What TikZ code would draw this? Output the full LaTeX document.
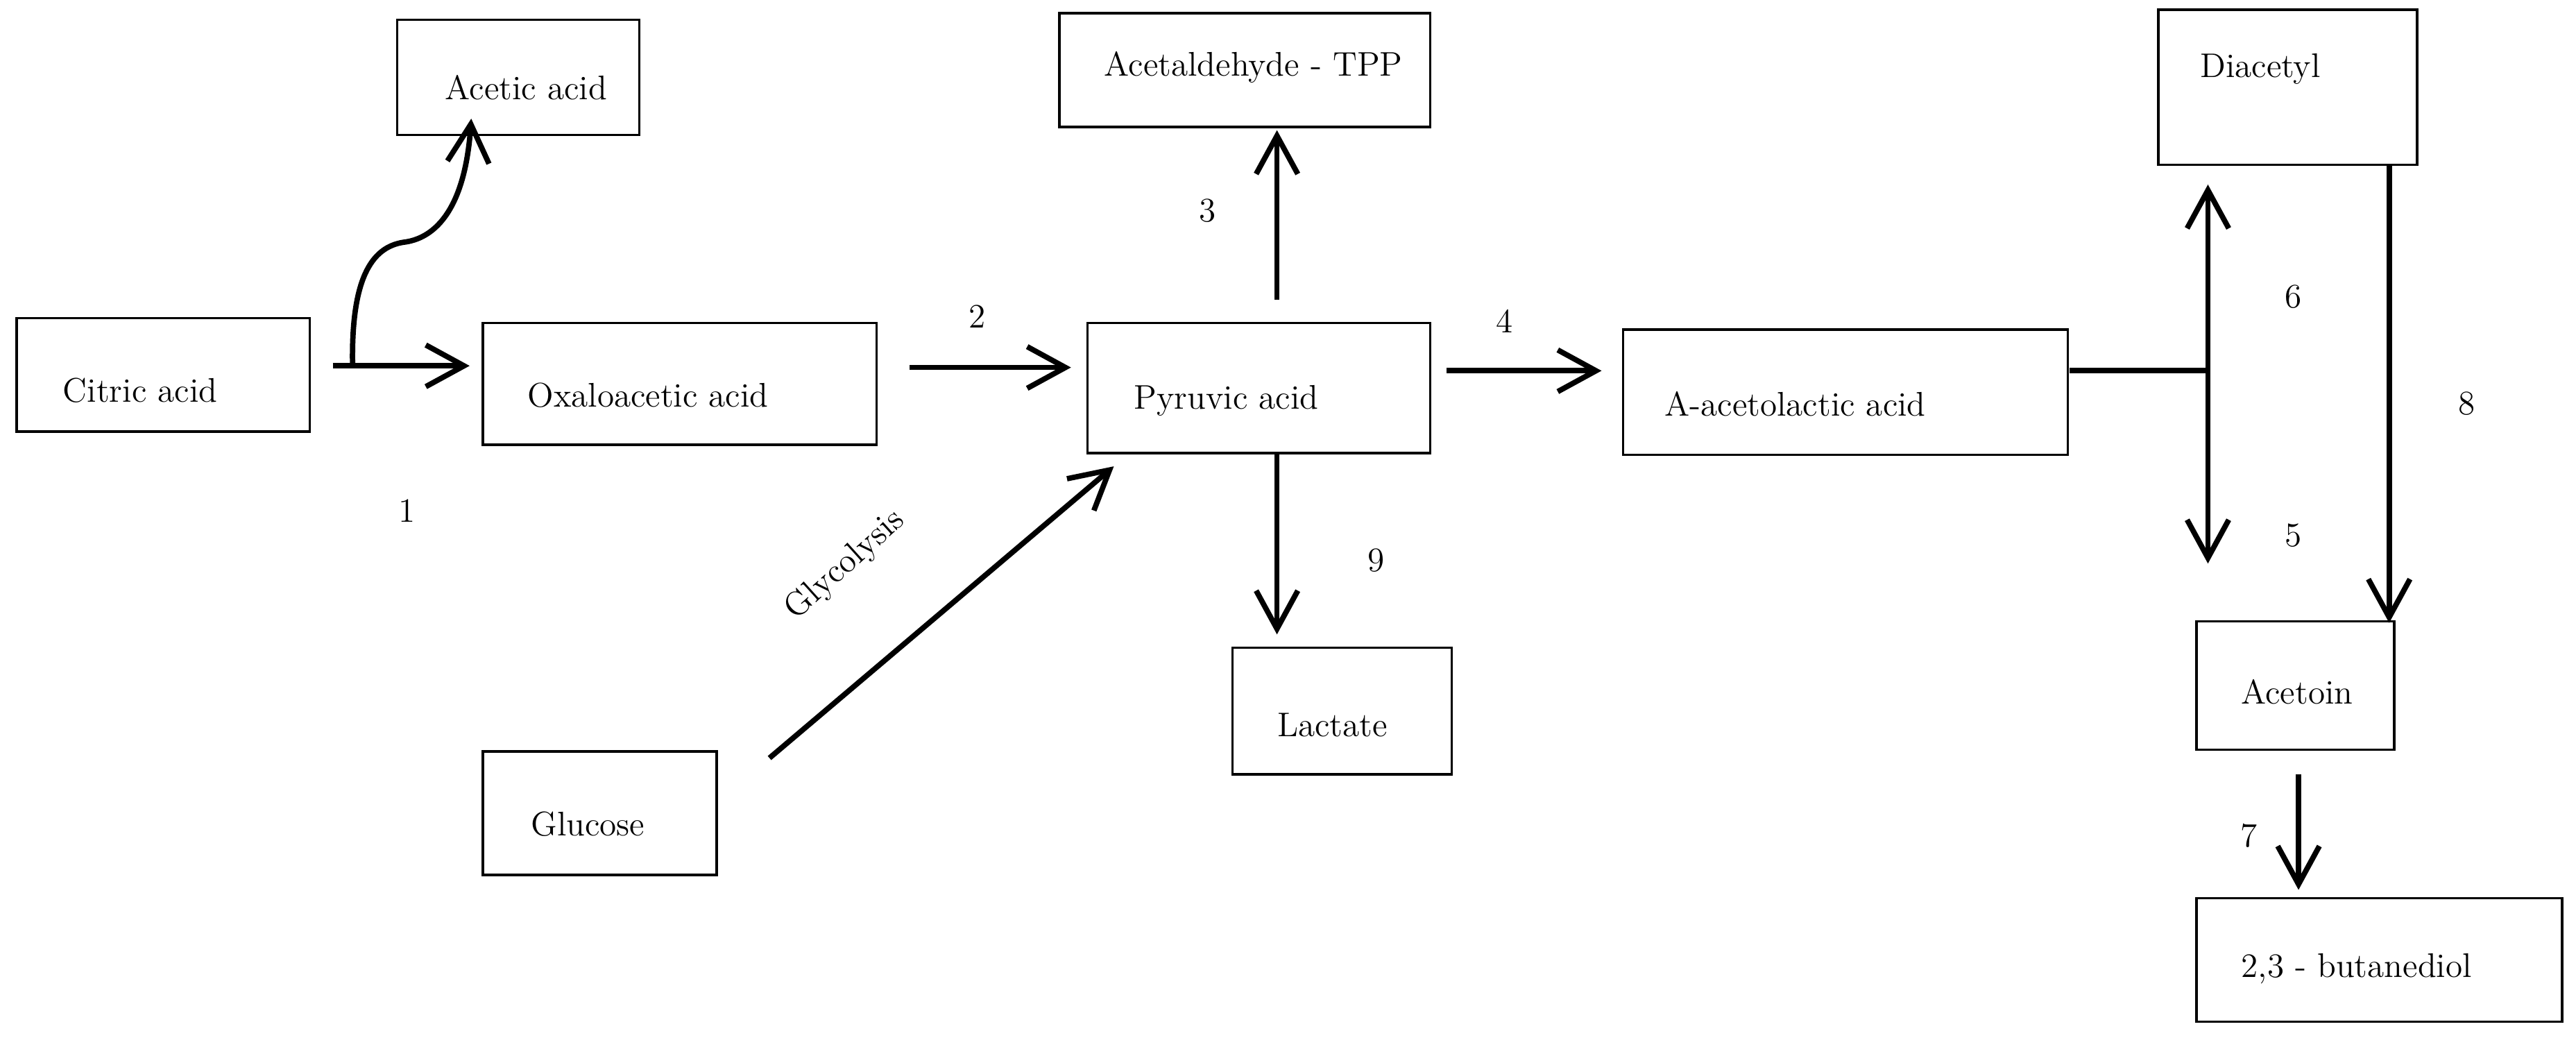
\documentclass[tikz,border=0pt]{standalone}
\usetikzlibrary{arrows.meta}
\begin{document}
\begin{tikzpicture}[x=0.02375cm,y=-0.02375cm,
  box/.style={draw,line width=1pt},
  lab/.style={anchor=west,font=\fontsize{14}{17}\selectfont,inner sep=0pt},
  num/.style={font=\fontsize{14}{17}\selectfont,inner sep=0pt},
  arr/.style={line width=2.2pt,-{Straight Barb[length=0.55cm,width=0.6cm,line width=2.2pt]}},
  ln/.style={line width=2.2pt}]
\useasboundingbox (0,0) rectangle (1563.4,629.5);
\draw[box] (241,12) rectangle (388,82); \node[lab] (acet) at (270,53) {Acetic acid};
\draw[box] (10,193) rectangle (188,262); \node[lab] (cit) at (38,237) {Citric acid};
\draw[box] (293,196) rectangle (532,270); \node[lab] (oxa) at (320,240) {Oxaloacetic acid};
\draw[box] (643,8) rectangle (868,77); \node[lab] (ald) at (670,41) {Acetaldehyde - TPP};
\draw[box] (660,196) rectangle (868,275); \node[lab] (pyr) at (688,243) {Pyruvic acid};
\draw[box] (985,200) rectangle (1255,276); \node[lab] (ala) at (1010,245) {A-acetolactic acid};
\draw[box] (1310,6) rectangle (1467,100); \node[lab] (dia) at (1335,42) {Diacetyl};
\draw[box] (748,393) rectangle (881,470); \node[lab] (lac) at (775,440) {Lactate};
\draw[box] (293,456) rectangle (435,531); \node[lab] (glu) at (322,500) {Glucose};
\draw[box] (1333,377) rectangle (1453,455); \node[lab] (acn) at (1360,420) {Acetoin};
\draw[box] (1333,545) rectangle (1555,620); \node[lab] (but) at (1360,588) {2,3 - butanediol};
% arrows
\coordinate (c1) at (202,222); \coordinate (c2) at (285,222);
\draw[arr] (c1) -- (c2);
\coordinate (s1) at (214,222); \coordinate (t1) at (286,72);
\draw[arr] (s1) .. controls (213,170) and (225,150) .. (245,147) .. controls (262,145) and (282,130) .. (t1);
\coordinate (a2) at (552,223); \coordinate (b2) at (650,223); \draw[arr] (a2) -- (b2);
\coordinate (a3) at (775,182); \coordinate (b3) at (775,79); \draw[arr] (a3) -- (b3);
\coordinate (a4) at (878,225); \coordinate (b4) at (972,225); \draw[arr] (a4) -- (b4);
\coordinate (a9) at (775,276); \coordinate (b9) at (775,385); \draw[arr] (a9) -- (b9);
\coordinate (ag) at (467,460); \coordinate (bg) at (676,283); \draw[arr] (ag) -- (bg);
\coordinate (a5) at (1256,225); \coordinate (j5) at (1340,225);
\draw[ln] (a5) -- (j5);
\coordinate (b6) at (1340,112); \coordinate (b5) at (1340,342);
\draw[arr] (j5) -- (b6); \draw[arr] (j5) -- (b5);
\coordinate (a8) at (1450,100); \coordinate (b8) at (1450,378); \draw[arr] (a8) -- (b8);
\coordinate (a7) at (1395,470); \coordinate (b7) at (1395,540); \draw[arr] (a7) -- (b7);
% labels
\node[num] at (247,310) {1};
\node[num] at (593,192) {2};
\node[num] at (733,128) {3};
\node[num] at (913,195) {4};
\node[num] at (1392,325) {5};
\node[num] at (1392,180) {6};
\node[num] at (1365,507) {7};
\node[num] at (1497,245) {8};
\node[num] at (835,340) {9};
\node[num,rotate=42] at (513,343) {Glycolysis};
\end{tikzpicture}
\end{document}
